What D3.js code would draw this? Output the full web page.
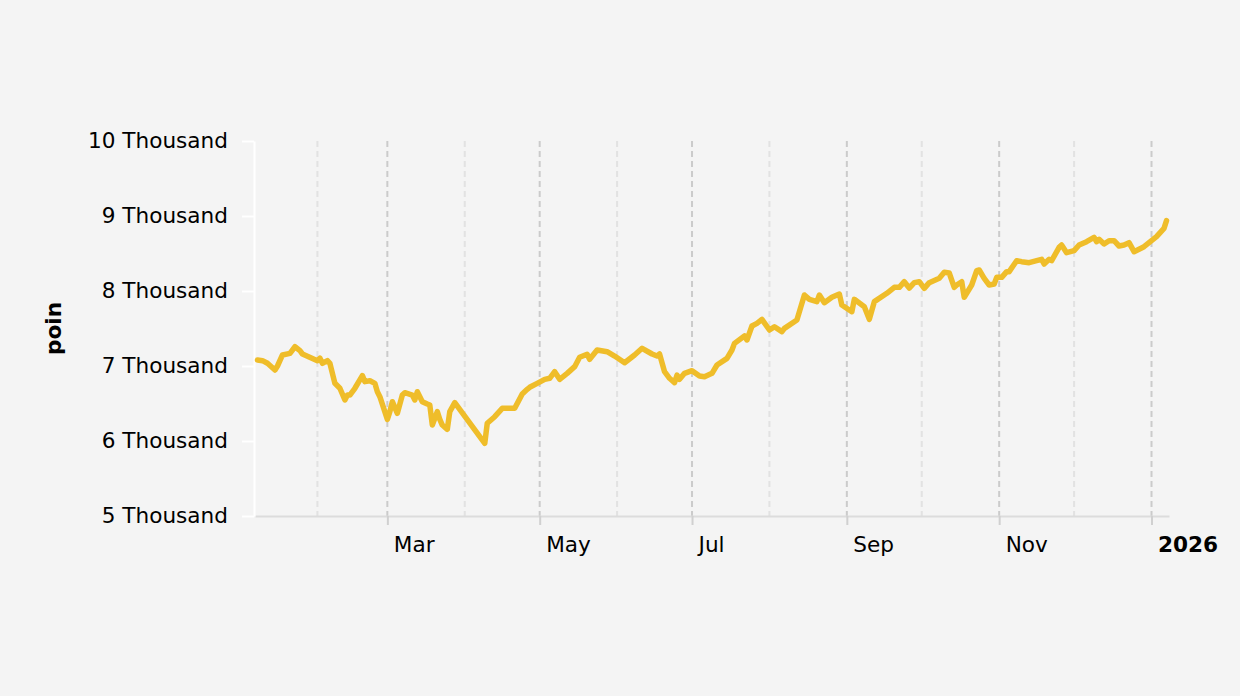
<!DOCTYPE html>
<html>
<head>
<meta charset="utf-8">
<script src="https://cdn.jsdelivr.net/npm/d3@7"></script>
<style>
    body { margin: 0; background: #f4f4f4; }
    svg { display: block; }
    svg text { font-family: "DejaVu Sans", Verdana, sans-serif; }
</style>
</head>
<body>
<div id="chart"></div>
<script>
// daily closes
let dates = [
    "2025-01-08", "2025-01-10", "2025-01-12", "2025-01-15", "2025-01-16", "2025-01-18", "2025-01-21", "2025-01-23",
    "2025-01-25", "2025-01-26", "2025-02-01", "2025-02-02", "2025-02-03", "2025-02-05", "2025-02-06", "2025-02-08",
    "2025-02-10", "2025-02-12", "2025-02-13", "2025-02-14", "2025-02-16", "2025-02-19", "2025-02-20", "2025-02-22",
    "2025-02-24", "2025-02-25", "2025-02-26", "2025-03-01", "2025-03-02", "2025-03-03", "2025-03-05", "2025-03-07",
    "2025-03-08", "2025-03-11", "2025-03-12", "2025-03-13", "2025-03-15", "2025-03-17", "2025-03-18", "2025-03-19",
    "2025-03-21", "2025-03-22", "2025-03-23", "2025-03-25", "2025-03-26", "2025-03-28", "2025-04-09", "2025-04-10",
    "2025-04-13", "2025-04-16", "2025-04-21", "2025-04-24", "2025-04-26", "2025-04-27", "2025-04-30", "2025-05-03",
    "2025-05-05", "2025-05-07", "2025-05-09", "2025-05-12", "2025-05-15", "2025-05-17", "2025-05-20", "2025-05-21",
    "2025-05-24", "2025-05-28", "2025-05-31", "2025-06-04", "2025-06-08", "2025-06-11", "2025-06-15", "2025-06-17",
    "2025-06-18", "2025-06-20", "2025-06-22", "2025-06-24", "2025-06-25", "2025-06-26", "2025-06-28", "2025-07-01",
    "2025-07-04", "2025-07-06", "2025-07-09", "2025-07-11", "2025-07-15", "2025-07-17", "2025-07-18", "2025-07-22",
    "2025-07-23", "2025-07-25", "2025-07-27", "2025-07-29", "2025-08-01", "2025-08-03", "2025-08-06", "2025-08-07",
    "2025-08-12", "2025-08-15", "2025-08-17", "2025-08-20", "2025-08-21", "2025-08-23", "2025-08-26", "2025-08-29",
    "2025-08-30", "2025-09-03", "2025-09-04", "2025-09-08", "2025-09-10", "2025-09-12", "2025-09-17", "2025-09-20",
    "2025-09-22", "2025-09-24", "2025-09-26", "2025-09-28", "2025-09-30", "2025-10-02", "2025-10-04", "2025-10-08",
    "2025-10-10", "2025-10-12", "2025-10-14", "2025-10-15", "2025-10-17", "2025-10-18", "2025-10-21", "2025-10-23",
    "2025-10-24", "2025-10-26", "2025-10-28", "2025-10-30", "2025-10-31", "2025-11-02", "2025-11-04", "2025-11-05",
    "2025-11-08", "2025-11-10", "2025-11-13", "2025-11-16", "2025-11-18", "2025-11-19", "2025-11-21", "2025-11-22",
    "2025-11-25", "2025-11-26", "2025-11-28", "2025-12-01", "2025-12-03", "2025-12-06", "2025-12-09", "2025-12-10",
    "2025-12-11", "2025-12-13", "2025-12-15", "2025-12-17", "2025-12-19", "2025-12-21", "2025-12-23", "2025-12-25",
    "2025-12-29", "2025-12-31", "2026-01-03", "2026-01-06", "2026-01-07"
];

let values = [
    7080, 7071, 7036, 6947, 7000, 7147, 7169, 7257,
    7204, 7160, 7071, 7103, 7036, 7071, 7036, 6769,
    6703, 6547, 6613, 6613, 6703, 6871, 6791, 6804,
    6769, 6657, 6591, 6289, 6391, 6524, 6369, 6613,
    6644, 6613, 6547, 6657, 6524, 6493, 6480, 6213,
    6391, 6289, 6213, 6156, 6391, 6511, 5969, 6236,
    6324, 6436, 6436, 6627, 6689, 6716, 6769, 6822,
    6836, 6924, 6822, 6902, 6991, 7116, 7156, 7089,
    7213, 7191, 7133, 7044, 7147, 7236, 7160, 7133,
    7160, 6924, 6836, 6778, 6880, 6822, 6902, 6938,
    6867, 6858, 6902, 7013, 7102, 7213, 7302, 7400,
    7347, 7533, 7569, 7622, 7480, 7524, 7458, 7502,
    7613, 7947, 7889, 7858, 7947, 7844, 7916, 7960,
    7813, 7724, 7889, 7791, 7622, 7858, 7969, 8049,
    8049, 8124, 8040, 8111, 8124, 8036, 8111, 8169,
    8250, 8240, 8049, 8080, 8124, 7916, 8080, 8271,
    8280, 8169, 8080, 8093, 8182, 8182, 8258, 8258,
    8404, 8391, 8378, 8404, 8422, 8360, 8422, 8404,
    8582, 8613, 8511, 8538, 8613, 8658, 8716, 8658,
    8689, 8627, 8671, 8671, 8600, 8613, 8644, 8524,
    8591, 8644, 8724, 8836, 8938
];

let xDomain = ["2025-01-07", "2026-01-08"];
let yTicks = [5000, 6000, 7000, 8000, 9000, 10000];
let yLabel = "poin";

function drawChart() {

    let margin = {top: 141, right: 71, bottom: 180, left: 255},
        width = 1240 - margin.left - margin.right,
        height = 696 - margin.top - margin.bottom;

    let font = "'DejaVu Sans', Verdana, sans-serif";
    let fontSize = "21.6px";

    let parse = d3.timeParse("%Y-%m-%d");
    let data = dates.map(function (d, i) {
        return {date: parse(d), value: values[i]};
    });

    let x = d3.scaleTime()
        .domain(xDomain.map(parse))
        .range([0, width]);

    let y = d3.scaleLinear()
        .domain([yTicks[0], yTicks[yTicks.length - 1]])
        .range([height, 0]);

    let svg = d3.select("#chart").append("svg")
        .attr("width", width + margin.left + margin.right)
        .attr("height", height + margin.top + margin.bottom)
        .style("background", "#f4f4f4")
        .append("g")
        .attr("transform", "translate(" + margin.left + "," + margin.top + ")");

    //month grid: odd months darker, even months lighter
    let months = d3.timeMonth.range(x.domain()[0], x.domain()[1]);
    svg.append("g")
        .attr("class", "grid")
        .selectAll("line")
        .data(months)
        .join("line")
        .attr("x1", d => x(d))
        .attr("x2", d => x(d))
        .attr("y1", 0)
        .attr("y2", height)
        .attr("stroke", d => d.getMonth() % 2 === 0 ? "#cbcbcb" : "#e2e2e2")
        .attr("stroke-width", 2)
        .attr("stroke-dasharray", "6,4");

    //x axis
    let xAxis = svg.append("g")
        .attr("class", "axis axis--x")
        .attr("transform", "translate(0," + height + ")")
        .call(d3.axisBottom(x)
            .ticks(d3.timeMonth.every(2))
            .tickSize(9)
            .tickSizeOuter(0)
            .tickPadding(12)
            .tickFormat(function (d) {
                return d.getMonth() === 0 ? d3.timeFormat("%Y")(d) : d3.timeFormat("%b")(d);
            }));
    xAxis.attr("font-family", font);
    xAxis.select(".domain")
        .attr("stroke", "#dcdcdc")
        .attr("stroke-width", 2);
    xAxis.selectAll(".tick line")
        .attr("stroke", "#d0d0d0")
        .attr("stroke-width", 2);
    xAxis.selectAll("text")
        .attr("text-anchor", "start")
        .attr("x", 6)
        .attr("fill", "#000")
        .style("font-family", font)
        .style("font-size", fontSize)
        .style("font-weight", d => d.getMonth() === 0 ? "bold" : "normal");

    //y axis
    let yAxis = svg.append("g")
        .attr("class", "axis axis--y")
        .attr("transform", "translate(-1,0)")
        .call(d3.axisLeft(y)
            .tickValues(yTicks)
            .tickSize(12)
            .tickSizeOuter(0)
            .tickPadding(14)
            .tickFormat(d => (d / 1000) + " Thousand"));
    yAxis.attr("font-family", font);
    yAxis.select(".domain")
        .attr("stroke", "#fff")
        .attr("stroke-width", 2);
    yAxis.selectAll(".tick line")
        .attr("stroke", "#fff")
        .attr("stroke-width", 2);
    yAxis.selectAll("text")
        .attr("fill", "#000")
        .style("font-family", font)
        .style("font-size", fontSize);

    svg.append("text")
        .attr("transform", "rotate(-90)")
        .attr("x", -height / 2)
        .attr("y", -194)
        .attr("text-anchor", "middle")
        .style("font-family", font)
        .style("font-size", fontSize)
        .style("font-weight", "bold")
        .text(yLabel);

    //the series
    let line = d3.line()
        .x(d => x(d.date))
        .y(d => y(d.value));

    svg.append("path")
        .datum(data)
        .attr("fill", "none")
        .attr("stroke", "#efbd2a")
        .attr("stroke-width", 5.5)
        .attr("stroke-linejoin", "round")
        .attr("stroke-linecap", "round")
        .attr("d", line);
}

drawChart();
</script>
</body>
</html>
